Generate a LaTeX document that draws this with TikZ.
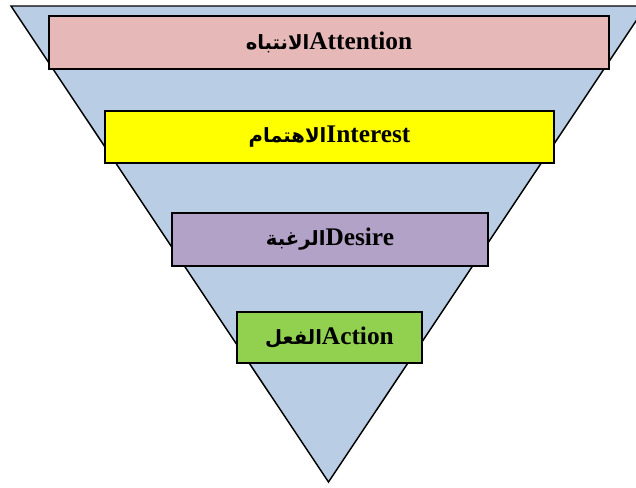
\documentclass[tikz,border=0pt]{standalone}
\usepackage{fontspec}
\setmainfont{Liberation Serif}
\newfontfamily\arabicfont[Script=Arabic]{DejaVu Sans}
\TeXXeTstate=1
\definecolor{tri}{HTML}{B9CDE5}
\definecolor{attc}{HTML}{E6B9B8}
\definecolor{intc}{HTML}{FFFF00}
\definecolor{desc}{HTML}{B3A2C7}
\definecolor{actc}{HTML}{92D050}
\newcommand{\ar}[1]{{\arabicfont\fontsize{14.7pt}{16pt}\selectfont\bfseries\beginR #1\endR}}
\begin{document}
\begin{tikzpicture}[x=0.75pt,y=-0.75pt,
  stage/.style={draw=black,line width=1pt,inner sep=0pt,
    font=\fontsize{19pt}{22pt}\selectfont\bfseries}]
\useasboundingbox (0,0) rectangle (636,487);
\begin{scope}
\clip (0,0) rectangle (636,487);
\draw[fill=tri,line width=1.1pt,line join=miter] (11,6) -- (646,6) -- (328.5,482) -- cycle;
\end{scope}
\node[stage,fill=attc,minimum width=560*0.75pt,minimum height=53*0.75pt] (att) at (329,42.5) {\ar{الانتباه}Attention};
\node[stage,fill=intc,minimum width=449*0.75pt,minimum height=52*0.75pt] (int) at (329.5,137) {\ar{الاهتمام}Interest};
\node[stage,fill=desc,minimum width=316*0.75pt,minimum height=53*0.75pt] (des) at (330,239.5) {\ar{الرغبة}Desire};
\node[stage,fill=actc,minimum width=185*0.75pt,minimum height=51*0.75pt] (act) at (329.5,337.5) {\ar{الفعل}Action};
\end{tikzpicture}
\end{document}
